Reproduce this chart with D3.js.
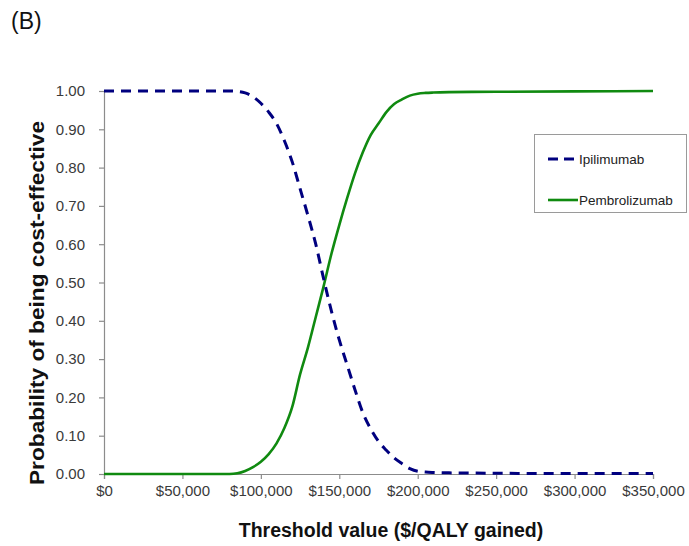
<!DOCTYPE html>
<html>
<head>
<meta charset="utf-8">
<script src="https://cdn.jsdelivr.net/npm/d3@7"></script>
<style>
  html, body { margin: 0; padding: 0; background: #fff; }
  svg { display: block; font-family: "Liberation Sans", Arial, sans-serif; }
</style>
</head>
<body>
<svg id="chart" width="689" height="546"></svg>
<script>
// Willingness-to-pay thresholds ($/QALY gained)
const thresholds = [0, 50000, 80000, 85000, 90000, 95000, 100000, 105000, 110000, 115000,
  120000, 125000, 130000, 135000, 140000, 145000, 150000, 155000, 160000, 165000,
  170000, 175000, 180000, 185000, 190000, 195000, 200000, 205000, 210000, 220000,
  250000, 300000, 350000];

// Probability each strategy is cost-effective at each threshold
const ipilimumab = [1, 1, 1, 0.999, 0.995, 0.985, 0.968, 0.945, 0.915, 0.87,
  0.815, 0.745, 0.675, 0.6, 0.51, 0.425, 0.35, 0.285, 0.22, 0.16,
  0.118, 0.085, 0.062, 0.042, 0.027, 0.014, 0.007, 0.005, 0.004, 0.003,
  0.002, 0.001, 0.001];
const pembrolizumab = [0, 0, 0, 0.002, 0.008, 0.018, 0.032, 0.052, 0.08, 0.12,
  0.175, 0.26, 0.33, 0.41, 0.49, 0.575, 0.65, 0.72, 0.785, 0.84,
  0.885, 0.915, 0.945, 0.966, 0.978, 0.988, 0.993, 0.995, 0.996, 0.997,
  0.998, 0.999, 1];

const seriesNames = ["Ipilimumab", "Pembrolizumab"];
const xTicks = [0, 50000, 100000, 150000, 200000, 250000, 300000, 350000];
const yTicks = [0, 0.1, 0.2, 0.3, 0.4, 0.5, 0.6, 0.7, 0.8, 0.9, 1.0];

const svg = d3.select("#chart");
const margin = { left: 104, right: 36, top: 91, bottom: 72 };
const W = 689, H = 546;

const x = d3.scaleLinear().domain([0, 350000]).range([margin.left, W - margin.right]);
const y = d3.scaleLinear().domain([0, 1]).range([H - margin.bottom, margin.top]);

const axisColor = "#8c8c8c";
const labelColor = "#3a3a3a";

// Panel label
svg.append("text").attr("x", 11).attr("y", 29)
  .attr("font-size", 23).attr("fill", "#111").text("(B)");

// X axis
const xAxis = svg.append("g").attr("transform", `translate(0,${y(0)})`)
  .call(d3.axisBottom(x).tickValues(xTicks).tickSize(5).tickPadding(6)
    .tickFormat(d => "$" + d3.format(",")(d)));
xAxis.select(".domain").attr("stroke", axisColor).attr("stroke-width", 1.2);
xAxis.selectAll(".tick line").attr("stroke", axisColor).attr("stroke-width", 1.2);
xAxis.selectAll(".tick text").attr("font-size", 15).attr("fill", labelColor)
  .attr("font-family", "Liberation Sans, Arial, sans-serif");

// Y axis
const yAxis = svg.append("g").attr("transform", `translate(${x(0)},0)`)
  .call(d3.axisLeft(y).tickValues(yTicks).tickSize(5).tickPadding(14)
    .tickFormat(d3.format(".2f")));
yAxis.select(".domain").attr("stroke", axisColor).attr("stroke-width", 1.2);
yAxis.selectAll(".tick line").attr("stroke", axisColor).attr("stroke-width", 1.2);
yAxis.selectAll(".tick text").attr("font-size", 15).attr("fill", labelColor)
  .attr("font-family", "Liberation Sans, Arial, sans-serif");

// Axis titles
svg.append("text").attr("x", 391).attr("y", 537)
  .attr("text-anchor", "middle").attr("font-size", 19.5).attr("font-weight", "bold")
  .attr("fill", "#111").text("Threshold value ($/QALY gained)");
svg.append("text")
  .attr("transform", "translate(44,303) rotate(-90)")
  .attr("text-anchor", "middle").attr("font-size", 19.5).attr("font-weight", "bold")
  .attr("textLength", 364).attr("lengthAdjust", "spacingAndGlyphs")
  .attr("fill", "#111").text("Probability of being cost-effective");

// Curves
const line = d3.line().curve(d3.curveMonotoneX);
const ipiPts = thresholds.map((t, i) => [x(t), y(ipilimumab[i])]);
const pemPts = thresholds.map((t, i) => [x(t), y(pembrolizumab[i])]);

svg.append("path").attr("d", line(pemPts)).attr("fill", "none")
  .attr("stroke", "#108a10").attr("stroke-width", 2.6);
svg.append("path").attr("d", line(ipiPts)).attr("fill", "none")
  .attr("stroke", "#00007f").attr("stroke-width", 3)
  .attr("stroke-dasharray", "10,7");

// Legend
const lg = svg.append("g");
lg.append("rect").attr("x", 534.5).attr("y", 134.5).attr("width", 152).attr("height", 78)
  .attr("fill", "#fff").attr("stroke", "#9a9a9a").attr("stroke-width", 1);
const legendItems = [
  { name: seriesNames[0], color: "#00007f", dash: "10,6", w: 3, yy: 159 },
  { name: seriesNames[1], color: "#108a10", dash: null, w: 2.6, yy: 200 }
];
legendItems.forEach(it => {
  lg.append("line").attr("x1", 548).attr("x2", 578).attr("y1", it.yy).attr("y2", it.yy)
    .attr("stroke", it.color).attr("stroke-width", it.w)
    .attr("stroke-dasharray", it.dash);
  lg.append("text").attr("x", 579).attr("y", it.yy + 5)
    .attr("font-size", 13.5).attr("fill", "#222").text(it.name);
});
</script>
</body>
</html>
